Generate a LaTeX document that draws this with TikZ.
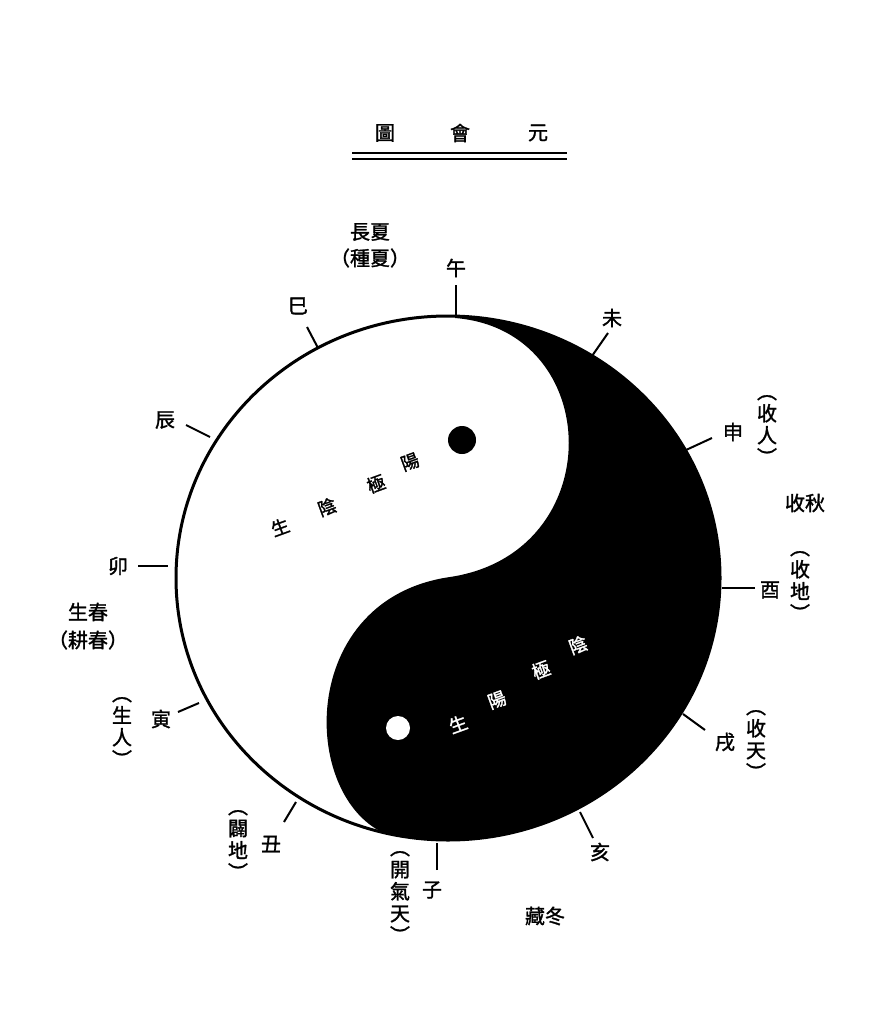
\documentclass[tikz,border=0pt]{standalone}
\usepackage{fontspec}
\newfontfamily\cjk{Noto Sans CJK TC}[FakeBold=1.5]
\begin{document}
\begin{tikzpicture}[x=1pt,y=-1pt,
  lab/.style={font=\cjk\fontsize{20}{22}\selectfont,inner sep=0pt},
  sm/.style={font=\cjk\fontsize{18}{20}\selectfont,inner sep=0pt},
  tick/.style={line width=2pt}]
\useasboundingbox (0,0) rectangle (887,1024);
\fill[white] (0,0) rectangle (887,1024);
% title
\node[lab] (t1) at (385,133) {圖};
\node[lab] (t2) at (460,133) {會};
\node[lab] (t3) at (538,133) {元};
\draw[line width=1.2pt] (352,153) -- (567,153);
\draw[line width=2.2pt] (352,159) -- (567,159);
% yin-yang
\begin{scope}
\clip (448,578) ellipse [x radius=272, y radius=262];
\fill[black] (455,300) -- (760,300) -- (760,860) -- (398,860) -- (398,838)
  .. controls (300,815) and (290,600) .. (450,577)
  .. controls (610,553) and (605,330) .. (455,318) -- cycle;
\end{scope}
\draw[line width=3pt] (448,578) ellipse [x radius=272, y radius=262];
\fill[black] (462,440) circle (14);
\fill[white] (398,728) circle (12);
% inner texts
\node[sm,rotate=20] (a1) at (280,527) {生};
\node[sm,rotate=20] (a2) at (327,507) {陰};
\node[sm,rotate=20] (a3) at (376,484) {極};
\node[sm,rotate=20] (a4) at (410,462) {陽};
\node[sm,white,rotate=20] (b1) at (458,724) {生};
\node[sm,white,rotate=20] (b2) at (497,700) {陽};
\node[sm,white,rotate=20] (b3) at (541,670) {極};
\node[sm,white,rotate=20] (b4) at (578,645) {陰};
% branches
\node[lab] (wu) at (456,268) {午};
\node[lab] (wei) at (612,318) {未};
\node[lab] (shen) at (733,432) {申};
\node[lab] (you) at (770,590) {酉};
\node[lab] (xu) at (725,742) {戌};
\node[lab] (hai) at (600,852) {亥};
\node[lab] (zi) at (432,890) {子};
\node[lab] (chou) at (271,844) {丑};
\node[lab] (yin) at (161,719) {寅};
\node[lab] (mao) at (118,566) {卯};
\node[lab] (chen) at (165,420) {辰};
\node[lab] (si) at (298,306) {巳};
\coordinate (w1) at (456,285); \coordinate (w2) at (456,318);
\draw[tick] (w1) -- (w2);
\coordinate (c1) at (608,333); \coordinate (c2) at (592,356); \draw[tick] (c1)--(c2);
\coordinate (c3) at (712,438); \coordinate (c4) at (686,450); \draw[tick] (c3)--(c4);
\coordinate (c5) at (755,588); \coordinate (c6) at (722,588); \draw[tick] (c5)--(c6);
\coordinate (c7) at (705,730); \coordinate (c8) at (683,714); \draw[tick] (c7)--(c8);
\coordinate (c9) at (593,838); \coordinate (c10) at (580,812); \draw[tick] (c9)--(c10);
\coordinate (c11) at (437,870); \coordinate (c12) at (437,843); \draw[tick] (c11)--(c12);
\coordinate (c13) at (284,822); \coordinate (c14) at (296,802); \draw[tick] (c13)--(c14);
\coordinate (c15) at (178,712); \coordinate (c16) at (199,703); \draw[tick] (c15)--(c16);
\coordinate (c17) at (138,566); \coordinate (c18) at (168,566); \draw[tick] (c17)--(c18);
\coordinate (c19) at (186,425); \coordinate (c20) at (210,437); \draw[tick] (c19)--(c20);
\coordinate (c21) at (307,327); \coordinate (c22) at (318,348); \draw[tick] (c21)--(c22);
% seasons
\node[lab] (xia1) at (370,232) {長夏};
\node[lab] (xia2) at (370,258) {（種夏）};
\node[lab] (qiu) at (805,503) {收秋};
\node[lab] (dong) at (545,916) {藏冬};
\node[lab] (chun1) at (88,612) {生春};
\node[lab] (chun2) at (88,640) {（耕春）};
\node[lab,align=center] (v1) at (767,430) {︵\\收\\人\\︶};
\node[lab,align=center] (v2) at (800,586) {︵\\收\\地\\︶};
\node[lab,align=center] (v3) at (756,745) {︵\\收\\天\\︶};
\node[lab,align=center] (v4) at (400,897) {︵\\開\\氣\\天\\︶};
\node[lab,align=center] (v5) at (238,845) {︵\\闢\\地\\︶};
\node[lab,align=center] (v6) at (122,732) {︵\\生\\人\\︶};
\end{tikzpicture}
\end{document}
